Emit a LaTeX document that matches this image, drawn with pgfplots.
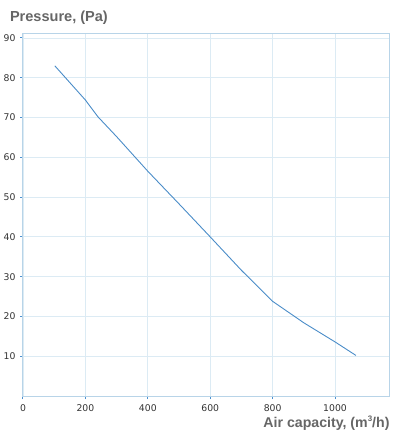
\documentclass[border=0pt]{standalone}
\usepackage{pgfplots}
\pgfplotsset{compat=1.18}
\usepackage{fontspec}
\setmainfont{DejaVu Sans}
\newfontfamily\arialbold{Liberation Sans}
\definecolor{gridc}{HTML}{DCEBF4}
\definecolor{axisc}{HTML}{B8D4E8}
\definecolor{tickc}{HTML}{4A90D0}
\definecolor{linec}{HTML}{4A8CC8}
\definecolor{labc}{HTML}{333333}
\definecolor{titc}{HTML}{666666}
\begin{document}
\begin{tikzpicture}
\useasboundingbox (-23bp,-40bp) rectangle (376bp,396bp);
\begin{axis}[
  at={(0,0)}, anchor=south west,
  scale only axis, width=366bp, height=362bp,
  xmin=0, xmax=1173, ymin=0, ymax=91,
  xtick={0,200,400,600,800,1000},
  ytick={10,20,30,40,50,60,70,80,90},
  grid=major,
  major grid style={gridc, line width=0.8bp},
  axis line style={axisc, line width=1bp},
  tick style={tickc, line width=1bp},
  tick align=outside,
  major tick length=3bp,
  xtick pos=bottom, ytick pos=left,
  ticklabel style={font=\fontsize{9.3}{11}\selectfont, text=labc},
  /pgf/number format/assume math mode=true,
  /pgf/number format/1000 sep={},
  xticklabel style={yshift=-2bp},
  yticklabel style={xshift=-1bp},
  clip=false,
]
\addplot[linec, line width=0.9bp] coordinates {
 (102,83) (200,74.4) (240,70.2) (300,65.2) (400,56.5) (500,48.3) (600,40.0)
 (700,31.6) (800,23.8) (900,18.4) (1000,13.6) (1067,10.2)
};
\end{axis}
\node[anchor=west, font=\arialbold\bfseries\fontsize{14.6}{18}\selectfont, text=titc] at (-16.5bp,378bp) {Pressure, (Pa)};
\node[anchor=east, font=\arialbold\bfseries\fontsize{14.2}{18}\selectfont, text=titc] at (370bp,-27bp) {Air capacity, (m\raisebox{0.45em}{\fontsize{8}{9}\selectfont 3}/h)};
\end{tikzpicture}
\end{document}
